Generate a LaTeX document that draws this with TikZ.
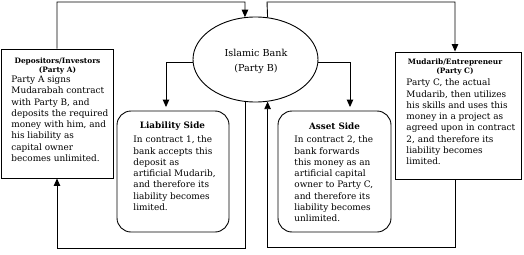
\documentclass[tikz,border=0pt]{standalone}
\usepackage{fontspec}
\setmainfont{DejaVu Serif}
\usetikzlibrary{arrows.meta,shapes.geometric}
\begin{document}
\begin{tikzpicture}[x=1pt,y=-1pt,
  line width=0.9pt,
  arr/.style={-{Triangle[length=7.5pt,width=6.5pt]}},
  sqbox/.style={draw, rectangle, inner sep=0pt},
  rbox/.style={draw, rectangle, rounded corners=14pt, inner sep=0pt},
  head/.style={font=\fontsize{7.4}{9}\selectfont\bfseries, align=center, inner sep=0pt},
  sidehead/.style={font=\fontsize{8.8}{9}\selectfont\bfseries, inner sep=0pt},
  body/.style={font=\fontsize{8.9}{11.3}\selectfont, align=left, inner sep=0pt, anchor=north west},
  banktxt/.style={font=\fontsize{9.6}{15}\selectfont, align=center, inner sep=0pt},
]
\useasboundingbox (0,0) rectangle (524,254);

% shapes
\node[sqbox, minimum width=112pt, minimum height=129pt] (dep) at (57,113.5) {};
\node[rbox, minimum width=112pt, minimum height=121pt] (liab) at (173,171.5) {};
\node[rbox, minimum width=113pt, minimum height=121pt] (asset) at (334.5,171.5) {};
\node[sqbox, minimum width=126pt, minimum height=127pt] (mud) at (458,115.5) {};
\node[draw, ellipse, minimum width=125pt, minimum height=85pt, inner sep=0pt] (bank) at (255.5,59.5) {};

% texts
\node[banktxt] (banklbl) at (256,61.5) {Islamic Bank\\(Party B)};

\node[head] (dephead) at (57.5,66.5) {Depositors/Investors\\(Party A)};
\node[body] (depbody) at (11,75.5) {Party A signs\\Mudarabah contract\\with Party B, and\\deposits the required\\money with him, and\\his liability as\\capital owner\\becomes unlimited.};

\node[sidehead] (liabhead) at (172.5,126) {Liability Side};
\node[body] (liabbody) at (133,135.5) {In contract 1, the\\bank accepts this\\deposit as\\artificial Mudarib,\\and therefore its\\liability becomes\\limited.};

\node[sidehead] (assethead) at (334.5,126) {Asset Side};
\node[body] (assetbody) at (294,135.5) {In contract 2, the\\bank forwards\\this money as an\\artificial capital\\owner to Party C,\\and therefore its\\liability becomes\\unlimited.};

\node[head] (mudhead) at (455,67.5) {Mudarib/Entrepreneur\\(Party C)};
\node[body] (mudbody) at (406,78.5) {Party C, the actual\\Mudarib, then utilizes\\his skills and uses this\\money in a project as\\agreed upon in contract\\2, and therefore its\\liability becomes\\limited.};

% connectors
\coordinate (c1) at (245,2);
\draw[arr] (dep.north) |- (c1) -- (bank.104.1);
\coordinate (c2) at (267,2);
\coordinate (c3) at (455,2);
\draw[arr] (bank.74.6) -- (c2) -- (c3) -- (c3 |- mud.north);
\coordinate (c4) at (166,0);
\draw[arr, shorten >=3.5pt] (bank.183) -| (c4 |- liab.north);
\coordinate (c5) at (350,0);
\draw[arr, shorten >=3.5pt] (bank.-3) -| (c5 |- asset.north);
\coordinate (c6) at (57,248);
\draw[arr] (bank.-104.1) |- (c6) -- (dep.south);
\coordinate (c7) at (455,247);
\draw[arr] (c7 |- mud.south) -- (c7) -| (bank.-74.6);
\end{tikzpicture}
\end{document}
